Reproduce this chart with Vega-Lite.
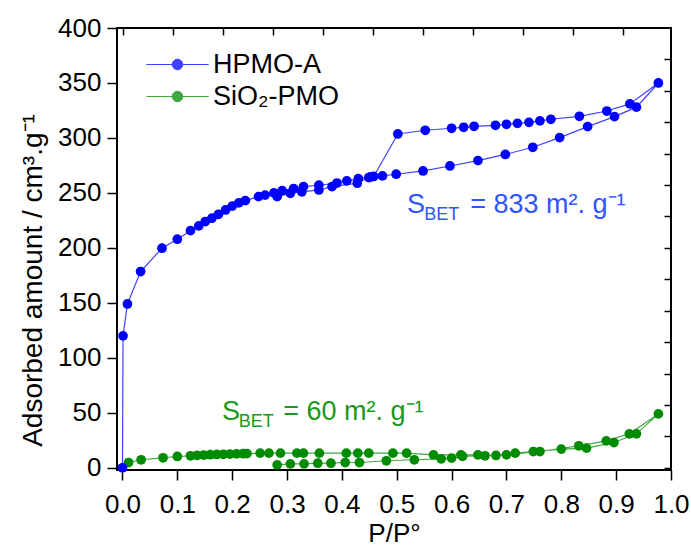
{
  "$schema": "https://vega.github.io/schema/vega-lite/v6.json",
  "width": 554,
  "height": 442,
  "autosize": {"type": "none"},
  "padding": {"left": 117, "top": 28, "right": 20, "bottom": 78},
  "background": "white",
  "config": {
    "font": "Liberation Sans",
    "view": {"stroke": "black", "strokeWidth": 2},
    "axis": {"domain": false, "grid": false, "tickColor": "black", "tickWidth": 1.5, "labelColor": "black", "titleColor": "black", "labelFont": "Liberation Sans", "titleFont": "Liberation Sans", "titleFontWeight": "normal"},
    "legend": {
      "orient": "none",
      "legendX": 47,
      "legendY": 23,
      "title": null,
      "padding": 0,
      "symbolType": "M-3.9,0H3.9M-0.66,0A0.66,0.66 0 1,1 0.66,0A0.66,0.66 0 1,1 -0.66,0Z",
      "symbolSize": 256,
      "symbolStrokeWidth": 1,
      "labelFontSize": 27,
      "labelColor": "black",
      "labelFont": "Liberation Sans",
      "labelOffset": 22,
      "rowPadding": 4
    }
  },
  "datasets": {
    "iso": [
      {"series": "SiO₂-PMO", "seq": 1, "x": 0.011, "y": 4.8},
      {"series": "SiO₂-PMO", "seq": 2, "x": 0.034, "y": 7.3},
      {"series": "SiO₂-PMO", "seq": 3, "x": 0.074, "y": 9.1},
      {"series": "SiO₂-PMO", "seq": 4, "x": 0.100, "y": 10.3},
      {"series": "SiO₂-PMO", "seq": 5, "x": 0.124, "y": 10.9},
      {"series": "SiO₂-PMO", "seq": 6, "x": 0.136, "y": 11.3},
      {"series": "SiO₂-PMO", "seq": 7, "x": 0.148, "y": 11.6},
      {"series": "SiO₂-PMO", "seq": 8, "x": 0.160, "y": 11.9},
      {"series": "SiO₂-PMO", "seq": 9, "x": 0.172, "y": 12.1},
      {"series": "SiO₂-PMO", "seq": 10, "x": 0.184, "y": 12.3},
      {"series": "SiO₂-PMO", "seq": 11, "x": 0.196, "y": 12.5},
      {"series": "SiO₂-PMO", "seq": 12, "x": 0.208, "y": 12.7},
      {"series": "SiO₂-PMO", "seq": 13, "x": 0.220, "y": 12.8},
      {"series": "SiO₂-PMO", "seq": 14, "x": 0.227, "y": 12.9},
      {"series": "SiO₂-PMO", "seq": 15, "x": 0.251, "y": 13.3},
      {"series": "SiO₂-PMO", "seq": 16, "x": 0.267, "y": 13.3},
      {"series": "SiO₂-PMO", "seq": 17, "x": 0.288, "y": 13.3},
      {"series": "SiO₂-PMO", "seq": 18, "x": 0.318, "y": 13.3},
      {"series": "SiO₂-PMO", "seq": 19, "x": 0.330, "y": 13.3},
      {"series": "SiO₂-PMO", "seq": 20, "x": 0.359, "y": 13.3},
      {"series": "SiO₂-PMO", "seq": 21, "x": 0.408, "y": 13.3},
      {"series": "SiO₂-PMO", "seq": 22, "x": 0.429, "y": 13.3},
      {"series": "SiO₂-PMO", "seq": 23, "x": 0.449, "y": 13.3},
      {"series": "SiO₂-PMO", "seq": 24, "x": 0.493, "y": 13.3},
      {"series": "SiO₂-PMO", "seq": 25, "x": 0.518, "y": 13.3},
      {"series": "SiO₂-PMO", "seq": 26, "x": 0.567, "y": 11.8},
      {"series": "SiO₂-PMO", "seq": 27, "x": 0.617, "y": 11.8},
      {"series": "SiO₂-PMO", "seq": 28, "x": 0.648, "y": 11.8},
      {"series": "SiO₂-PMO", "seq": 29, "x": 0.681, "y": 11.2},
      {"series": "SiO₂-PMO", "seq": 30, "x": 0.716, "y": 13.3},
      {"series": "SiO₂-PMO", "seq": 31, "x": 0.749, "y": 14.8},
      {"series": "SiO₂-PMO", "seq": 32, "x": 0.800, "y": 17.0},
      {"series": "SiO₂-PMO", "seq": 33, "x": 0.846, "y": 17.9},
      {"series": "SiO₂-PMO", "seq": 34, "x": 0.896, "y": 23.0},
      {"series": "SiO₂-PMO", "seq": 35, "x": 0.937, "y": 30.9},
      {"series": "SiO₂-PMO", "seq": 36, "x": 0.977, "y": 49.0},
      {"series": "SiO₂-PMO", "seq": 37, "x": 0.924, "y": 30.9},
      {"series": "SiO₂-PMO", "seq": 38, "x": 0.882, "y": 24.5},
      {"series": "SiO₂-PMO", "seq": 39, "x": 0.832, "y": 20.0},
      {"series": "SiO₂-PMO", "seq": 40, "x": 0.761, "y": 14.8},
      {"series": "SiO₂-PMO", "seq": 41, "x": 0.700, "y": 11.8},
      {"series": "SiO₂-PMO", "seq": 42, "x": 0.661, "y": 10.9},
      {"series": "SiO₂-PMO", "seq": 43, "x": 0.620, "y": 10.5},
      {"series": "SiO₂-PMO", "seq": 44, "x": 0.600, "y": 8.8},
      {"series": "SiO₂-PMO", "seq": 45, "x": 0.581, "y": 8.2},
      {"series": "SiO₂-PMO", "seq": 46, "x": 0.532, "y": 7.3},
      {"series": "SiO₂-PMO", "seq": 47, "x": 0.481, "y": 6.4},
      {"series": "SiO₂-PMO", "seq": 48, "x": 0.432, "y": 4.8},
      {"series": "SiO₂-PMO", "seq": 49, "x": 0.406, "y": 4.8},
      {"series": "SiO₂-PMO", "seq": 50, "x": 0.380, "y": 4.2},
      {"series": "SiO₂-PMO", "seq": 51, "x": 0.356, "y": 4.2},
      {"series": "SiO₂-PMO", "seq": 52, "x": 0.331, "y": 3.6},
      {"series": "SiO₂-PMO", "seq": 53, "x": 0.306, "y": 3.6},
      {"series": "SiO₂-PMO", "seq": 54, "x": 0.282, "y": 2.7},
      {"series": "HPMO-A", "seq": 1, "x": 0.0, "y": 0},
      {"series": "HPMO-A", "seq": 2, "x": 0.001, "y": 120},
      {"series": "HPMO-A", "seq": 3, "x": 0.009, "y": 149},
      {"series": "HPMO-A", "seq": 4, "x": 0.033, "y": 178.5},
      {"series": "HPMO-A", "seq": 5, "x": 0.072, "y": 199.7},
      {"series": "HPMO-A", "seq": 6, "x": 0.100, "y": 207.9},
      {"series": "HPMO-A", "seq": 7, "x": 0.124, "y": 215.7},
      {"series": "HPMO-A", "seq": 8, "x": 0.139, "y": 220},
      {"series": "HPMO-A", "seq": 9, "x": 0.151, "y": 224},
      {"series": "HPMO-A", "seq": 10, "x": 0.163, "y": 227},
      {"series": "HPMO-A", "seq": 11, "x": 0.175, "y": 230.6},
      {"series": "HPMO-A", "seq": 12, "x": 0.188, "y": 234.5},
      {"series": "HPMO-A", "seq": 13, "x": 0.200, "y": 238},
      {"series": "HPMO-A", "seq": 14, "x": 0.212, "y": 241},
      {"series": "HPMO-A", "seq": 15, "x": 0.224, "y": 243},
      {"series": "HPMO-A", "seq": 16, "x": 0.248, "y": 246.6},
      {"series": "HPMO-A", "seq": 17, "x": 0.260, "y": 248},
      {"series": "HPMO-A", "seq": 18, "x": 0.276, "y": 250},
      {"series": "HPMO-A", "seq": 19, "x": 0.291, "y": 252},
      {"series": "HPMO-A", "seq": 20, "x": 0.312, "y": 254},
      {"series": "HPMO-A", "seq": 21, "x": 0.330, "y": 255.7},
      {"series": "HPMO-A", "seq": 22, "x": 0.358, "y": 257},
      {"series": "HPMO-A", "seq": 23, "x": 0.391, "y": 259},
      {"series": "HPMO-A", "seq": 24, "x": 0.409, "y": 261},
      {"series": "HPMO-A", "seq": 25, "x": 0.430, "y": 263},
      {"series": "HPMO-A", "seq": 26, "x": 0.452, "y": 264.5},
      {"series": "HPMO-A", "seq": 27, "x": 0.474, "y": 265.5},
      {"series": "HPMO-A", "seq": 28, "x": 0.499, "y": 267},
      {"series": "HPMO-A", "seq": 29, "x": 0.548, "y": 270},
      {"series": "HPMO-A", "seq": 30, "x": 0.597, "y": 274.5},
      {"series": "HPMO-A", "seq": 31, "x": 0.648, "y": 279.4},
      {"series": "HPMO-A", "seq": 32, "x": 0.698, "y": 285},
      {"series": "HPMO-A", "seq": 33, "x": 0.748, "y": 291.5},
      {"series": "HPMO-A", "seq": 34, "x": 0.797, "y": 300.3},
      {"series": "HPMO-A", "seq": 35, "x": 0.848, "y": 310.3},
      {"series": "HPMO-A", "seq": 36, "x": 0.897, "y": 319.4},
      {"series": "HPMO-A", "seq": 37, "x": 0.937, "y": 328},
      {"series": "HPMO-A", "seq": 38, "x": 0.977, "y": 350},
      {"series": "HPMO-A", "seq": 39, "x": 0.925, "y": 331},
      {"series": "HPMO-A", "seq": 40, "x": 0.883, "y": 324.5},
      {"series": "HPMO-A", "seq": 41, "x": 0.833, "y": 319.7},
      {"series": "HPMO-A", "seq": 42, "x": 0.781, "y": 317},
      {"series": "HPMO-A", "seq": 43, "x": 0.761, "y": 315.5},
      {"series": "HPMO-A", "seq": 44, "x": 0.741, "y": 314.2},
      {"series": "HPMO-A", "seq": 45, "x": 0.720, "y": 313.3},
      {"series": "HPMO-A", "seq": 46, "x": 0.700, "y": 312.4},
      {"series": "HPMO-A", "seq": 47, "x": 0.680, "y": 311.5},
      {"series": "HPMO-A", "seq": 48, "x": 0.641, "y": 310.6},
      {"series": "HPMO-A", "seq": 49, "x": 0.622, "y": 309.7},
      {"series": "HPMO-A", "seq": 50, "x": 0.600, "y": 308.8},
      {"series": "HPMO-A", "seq": 51, "x": 0.552, "y": 307},
      {"series": "HPMO-A", "seq": 52, "x": 0.502, "y": 303.6},
      {"series": "HPMO-A", "seq": 53, "x": 0.458, "y": 265},
      {"series": "HPMO-A", "seq": 54, "x": 0.449, "y": 264},
      {"series": "HPMO-A", "seq": 55, "x": 0.428, "y": 258.8},
      {"series": "HPMO-A", "seq": 56, "x": 0.382, "y": 255.7},
      {"series": "HPMO-A", "seq": 57, "x": 0.358, "y": 252.7},
      {"series": "HPMO-A", "seq": 58, "x": 0.327, "y": 251},
      {"series": "HPMO-A", "seq": 59, "x": 0.306, "y": 249.7},
      {"series": "HPMO-A", "seq": 60, "x": 0.282, "y": 246.6}
    ],
    "notesMain": [
      {"series": "HPMO-A", "label": "S", "x": 0.5186, "y": 231.8},
      {"series": "HPMO-A", "label": "= 833 m². g⁻¹", "x": 0.634, "y": 231.8},
      {"series": "SiO₂-PMO", "label": "S", "x": 0.1816, "y": 43.6},
      {"series": "SiO₂-PMO", "label": "= 60 m². g⁻¹", "x": 0.293, "y": 43.6}
    ],
    "notesSub": [
      {"series": "HPMO-A", "label": "BET", "x": 0.550, "y": 225.5},
      {"series": "SiO₂-PMO", "label": "BET", "x": 0.212, "y": 37.5}
    ],
    "frame": [{"a": 0, "b": 0}]
  },
  "layer": [
    {
      "layer": [
        {
          "data": {"name": "iso"},
          "mark": {"type": "line", "strokeWidth": 1.2, "opacity": 0.75},
          "encoding": {
            "x": {"field": "x", "type": "quantitative", "scale": {"domain": [-0.01, 1.0], "nice": false, "zero": false}},
            "y": {"field": "y", "type": "quantitative", "scale": {"domain": [-2, 400], "nice": false, "zero": false}},
            "color": {"field": "series", "type": "nominal", "scale": {"domain": ["HPMO-A", "SiO₂-PMO"], "range": ["#0000ff", "#008c00"]}},
            "detail": {"field": "series"},
            "order": {"field": "seq", "type": "quantitative"}
          }
        },
        {
          "data": {"name": "iso"},
          "mark": {"type": "point", "filled": true, "opacity": 1, "size": 95, "shape": "circle"},
          "encoding": {
            "x": {
              "field": "x", "type": "quantitative",
              "scale": {"domain": [-0.01, 1.0], "nice": false, "zero": false},
              "axis": {
                "orient": "bottom",
                "title": "P/P°",
                "values": [0, 0.05, 0.1, 0.15, 0.2, 0.25, 0.3, 0.35, 0.4, 0.45, 0.5, 0.55, 0.6, 0.65, 0.7, 0.75, 0.8, 0.85, 0.9, 0.95, 1.0],
                "labelExpr": "round(datum.value*100) % 10 === 0 ? format(datum.value, '.1f') : ''",
                "tickSize": {"condition": {"test": "round(datum.value*100) % 10 === 0", "value": 10}, "value": 5},
                "labelPadding": 11,
                "labelFontSize": 26,
                "labelOverlap": false,
                "labelBound": false,
                "labelFlush": false,
                "titleFontSize": 26,
                "titleY": 71,
                "titleBaseline": "alphabetic"
              }
            },
            "y": {
              "field": "y", "type": "quantitative",
              "scale": {"domain": [-2, 400], "nice": false, "zero": false},
              "axis": {
                "orient": "left",
                "title": "Adsorbed amount / cm³.g⁻¹",
                "values": [0, 25, 50, 75, 100, 125, 150, 175, 200, 225, 250, 275, 300, 325, 350, 375, 400],
                "labelExpr": "datum.value % 50 === 0 ? datum.label : ''",
                "tickSize": {"condition": {"test": "datum.value % 50 === 0", "value": 10}, "value": 5},
                "labelPadding": 6,
                "labelFontSize": 26,
                "labelOverlap": false,
                "labelBound": false,
                "labelFlush": false,
                "titleFontSize": 28,
                "titleX": -84,
                "titleY": 252,
                "titleAngle": -90,
                "titleAlign": "center",
                "titleBaseline": "middle"
              }
            },
            "color": {
              "field": "series", "type": "nominal",
              "scale": {"domain": ["HPMO-A", "SiO₂-PMO"], "range": ["#0000ff", "#008c00"]},
              "legend": {
                "encode": {"symbols": {"update": {"stroke": {"scale": "color", "field": "value"}, "fill": {"scale": "color", "field": "value"}, "strokeWidth": {"value": 1}, "opacity": {"value": 1}}}}
              }
            }
          }
        },
        {
          "data": {"name": "notesMain"},
          "mark": {"type": "text", "align": "left", "baseline": "alphabetic", "fontSize": 27, "font": "Liberation Sans"},
          "encoding": {
            "x": {"field": "x", "type": "quantitative", "scale": {"domain": [-0.01, 1.0], "nice": false, "zero": false}},
            "y": {"field": "y", "type": "quantitative", "scale": {"domain": [-2, 400], "nice": false, "zero": false}},
            "text": {"field": "label"},
            "color": {"condition": {"test": "datum.series === 'HPMO-A'", "value": "#2f55ff"}, "value": "#199a19"}
          }
        },
        {
          "data": {"name": "notesSub"},
          "mark": {"type": "text", "align": "left", "baseline": "alphabetic", "fontSize": 18, "font": "Liberation Sans"},
          "encoding": {
            "x": {"field": "x", "type": "quantitative", "scale": {"domain": [-0.01, 1.0], "nice": false, "zero": false}},
            "y": {"field": "y", "type": "quantitative", "scale": {"domain": [-2, 400], "nice": false, "zero": false}},
            "text": {"field": "label"},
            "color": {"condition": {"test": "datum.series === 'HPMO-A'", "value": "#2f55ff"}, "value": "#199a19"}
          }
        }
      ]
    },
    {
      "data": {"name": "frame"},
      "mark": {"type": "point", "opacity": 0},
      "encoding": {
        "x": {
          "field": "a", "type": "quantitative",
          "scale": {"domain": [-0.0114, 1.0966], "nice": false, "zero": false},
          "axis": {"orient": "top", "title": null, "labels": false, "values": [0, 0.1, 0.2, 0.3, 0.4, 0.5, 0.6, 0.7, 0.8, 0.9, 1.0], "tickSize": -7}
        },
        "y": {
          "field": "b", "type": "quantitative",
          "scale": {"domain": [-0.07, 14.0], "nice": false, "zero": false},
          "axis": {"orient": "right", "title": null, "labels": false, "values": [0, 1, 2, 3, 4, 5, 6, 7, 8, 9, 10, 11, 12, 13], "tickSize": -7}
        }
      }
    }
  ],
  "resolve": {"scale": {"x": "independent", "y": "independent"}, "axis": {"x": "independent", "y": "independent"}}
}
